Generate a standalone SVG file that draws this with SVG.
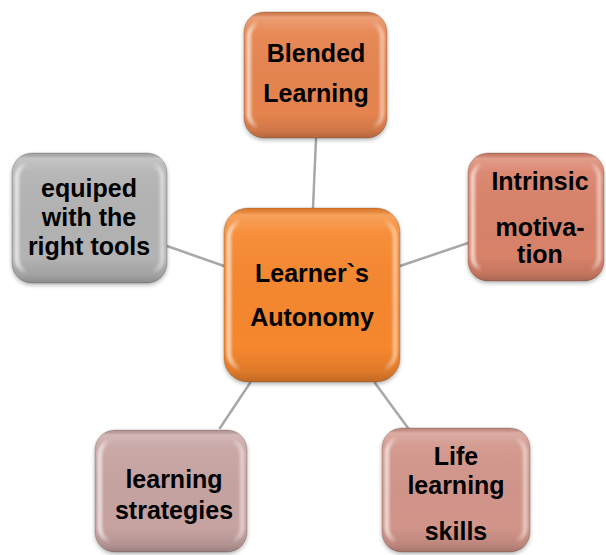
<svg xmlns="http://www.w3.org/2000/svg" width="606" height="555" viewBox="0 0 606 555">
  <style>
    .link { stroke: #A8A8A8; stroke-width: 2.5; fill: none; stroke-linecap: round; }
    .box { stroke: #000; stroke-opacity: 0.18; stroke-width: 1; filter: url(#drop); }
    .shade { fill: url(#vshade); }
    .rim { fill: none; stroke: url(#sidelight); stroke-width: 5; filter: url(#soft); }
    .label { font-family: "Liberation Sans", Arial, sans-serif; font-weight: bold; font-size: 25px; fill: #000; text-anchor: middle; }
  </style>
  <defs>
    <!-- top-to-bottom shading laid over every box -->
    <linearGradient id="vshade" x1="0" y1="0" x2="0" y2="1">
      <stop offset="0" stop-color="#000" stop-opacity="0.10"/>
      <stop offset="0.04" stop-color="#fff" stop-opacity="0.22"/>
      <stop offset="0.15" stop-color="#fff" stop-opacity="0.06"/>
      <stop offset="0.80" stop-color="#000" stop-opacity="0"/>
      <stop offset="0.94" stop-color="#000" stop-opacity="0.10"/>
      <stop offset="1" stop-color="#000" stop-opacity="0.22"/>
    </linearGradient>
    <!-- bright bands along the left and right inner edges -->
    <linearGradient id="sidelight" x1="0" y1="0" x2="1" y2="0">
      <stop offset="0" stop-color="#fff" stop-opacity="0.6"/>
      <stop offset="0.07" stop-color="#fff" stop-opacity="0"/>
      <stop offset="0.93" stop-color="#fff" stop-opacity="0"/>
      <stop offset="1" stop-color="#fff" stop-opacity="0.45"/>
    </linearGradient>
    <filter id="soft" x="-10%" y="-10%" width="120%" height="120%">
      <feGaussianBlur stdDeviation="1.2"/>
    </filter>
    <filter id="drop" x="-10%" y="-10%" width="120%" height="125%">
      <feGaussianBlur in="SourceAlpha" stdDeviation="2"/>
      <feOffset dy="2" result="b"/>
      <feComponentTransfer><feFuncA type="linear" slope="0.3"/></feComponentTransfer>
      <feMerge><feMergeNode/><feMergeNode in="SourceGraphic"/></feMerge>
    </filter>
  </defs>

  <g id="connectors">
    <line class="link" x1="316" y1="139" x2="313" y2="208"/>
    <line class="link" x1="167" y1="246" x2="224" y2="266"/>
    <line class="link" x1="400" y1="266" x2="468" y2="243"/>
    <line class="link" x1="250" y1="383" x2="220" y2="428"/>
    <line class="link" x1="375" y1="383" x2="408" y2="428"/>
  </g>

  <g id="learners-autonomy">
    <rect class="box" x="224" y="208" width="176" height="174" rx="24" fill="#F6872F"/>
    <rect class="shade" x="224" y="208" width="176" height="174" rx="24"/>
    <rect class="rim" x="229" y="220" width="166" height="150" rx="18"/>
    <text class="label" x="312" y="282">Learner`s</text>
    <text class="label" x="312" y="326">Autonomy</text>
  </g>

  <g id="blended-learning">
    <rect class="box" x="244" y="12" width="143" height="126" rx="20" fill="#E6844F"/>
    <rect class="shade" x="244" y="12" width="143" height="126" rx="20"/>
    <rect class="rim" x="249" y="22" width="133" height="106" rx="15"/>
    <text class="label" x="316" y="62">Blended</text>
    <text class="label" x="316" y="102">Learning</text>
  </g>

  <g id="intrinsic-motivation">
    <rect class="box" x="468" y="153" width="136" height="128" rx="20" fill="#D9826A"/>
    <rect class="shade" x="468" y="153" width="136" height="128" rx="20"/>
    <rect class="rim" x="473" y="163" width="126" height="108" rx="15"/>
    <text class="label" x="540" y="190">Intrinsic</text>
    <text class="label" x="540" y="236">motiva-</text>
    <text class="label" x="540" y="263">tion</text>
  </g>

  <g id="right-tools">
    <rect class="box" x="12" y="153" width="155" height="130" rx="20" fill="#B3B3B3"/>
    <rect class="shade" x="12" y="153" width="155" height="130" rx="20"/>
    <rect class="rim" x="17" y="163" width="145" height="110" rx="15"/>
    <text class="label" x="89" y="197">equiped</text>
    <text class="label" x="89" y="226">with the</text>
    <text class="label" x="89" y="255">right tools</text>
  </g>

  <g id="learning-strategies">
    <rect class="box" x="95" y="430" width="152" height="122" rx="20" fill="#C6A3A1"/>
    <rect class="shade" x="95" y="430" width="152" height="122" rx="20"/>
    <rect class="rim" x="100" y="440" width="142" height="102" rx="15"/>
    <text class="label" x="174" y="488">learning</text>
    <text class="label" x="174" y="519">strategies</text>
  </g>

  <g id="life-learning-skills">
    <rect class="box" x="382" y="428" width="148" height="124" rx="20" fill="#D2958A"/>
    <rect class="shade" x="382" y="428" width="148" height="124" rx="20"/>
    <rect class="rim" x="387" y="438" width="138" height="104" rx="15"/>
    <text class="label" x="456" y="465">Life</text>
    <text class="label" x="456" y="494">learning</text>
    <text class="label" x="456" y="540">skills</text>
  </g>
</svg>
